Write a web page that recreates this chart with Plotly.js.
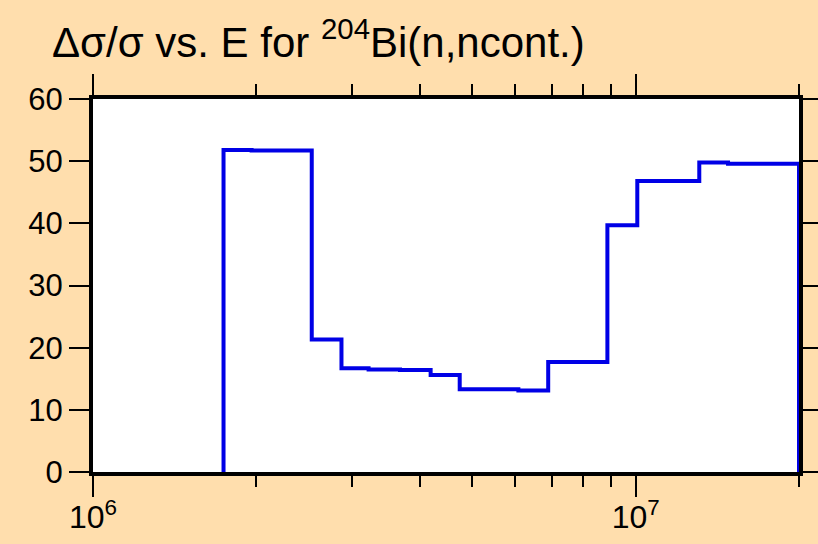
<!DOCTYPE html>
<html>
<head>
<meta charset="utf-8">
<script src="https://cdn.plot.ly/plotly-3.0.1.min.js"></script>
<style>html,body{margin:0;padding:0;background:#FFDEAD;}</style>
</head>
<body>
<div id="chart" style="width:818px;height:544px;"></div>
<script>
// Bin edges (eV) and relative uncertainty values (%) per bin
const binEdges = [1.74e6, 1.96e6, 2.53e6, 2.87e6, 3.22e6, 3.68e6, 4.19e6, 4.74e6, 5.36e6, 6.08e6, 6.90e6, 8.87e6, 1.007e7, 1.31e7, 1.48e7, 2.0e7];
const binValues = [51.8, 51.7, 21.3, 16.7, 16.5, 16.4, 15.6, 13.3, 13.3, 13.1, 17.7, 39.7, 46.8, 49.8, 49.6];
const majorTicks = [1e6, 1e7];
const majorTickText = ['10<sup>6</sup>', '10<sup>7</sup>'];
const minorTicks = [2e6, 3e6, 4e6, 5e6, 6e6, 7e6, 8e6, 9e6, 2e7];
const yTicks = [0, 10, 20, 30, 40, 50, 60];

// build step path
const xs = [binEdges[0]], ys = [0];
for (let i = 0; i < binValues.length; i++) { xs.push(binEdges[i]); ys.push(binValues[i]); }
xs.push(binEdges[binEdges.length - 1]); ys.push(binValues[binValues.length - 1]);
xs.push(binEdges[binEdges.length - 1]); ys.push(0);

const font = "Liberation Sans, Arial, sans-serif";
const gd = document.getElementById('chart');

function nudgeLabels() {
  gd.querySelectorAll('.xtick text').forEach(function (t) {
    const y = parseFloat(t.getAttribute('y') || '0');
    if (t.__shiftedY !== y) {
      const ny = y - 7;
      t.setAttribute('y', ny);
      t.__shiftedY = ny;
    }
  });
}

Plotly.newPlot(gd, [{
  x: xs, y: ys, type: 'scatter', mode: 'lines',
  line: {shape: 'hv', color: '#0000E6', width: 4},
  hoverinfo: 'skip', showlegend: false, cliponaxis: false
}], {
  width: 818, height: 544,
  paper_bgcolor: '#FFDEAD', plot_bgcolor: '#FFFFFF',
  margin: {l: 93, r: 19, t: 99, b: 72},
  font: {family: font, size: 31, color: '#000'},
  title: {text: 'Δσ/σ vs. E for <sup>204</sup>Bi(n,ncont.)', x: 52/818, xanchor: 'left', xref: 'container',
          y: 1 - 42/544, yanchor: 'middle', yref: 'container', font: {family: font, size: 42, color: '#000'}},
  xaxis: {type: 'log', range: [6, Math.log10(2e7)], tickmode: 'array', tickvals: majorTicks, ticktext: majorTickText,
          ticks: 'outside', ticklen: 21, tickwidth: 2, tickcolor: '#000', automargin: false,
          showline: true, linewidth: 4, linecolor: '#000', mirror: 'allticks', showgrid: false, zeroline: false,
          minor: {tickmode: 'array', tickvals: minorTicks, ticks: 'outside', ticklen: 11, tickwidth: 2, tickcolor: '#000', showgrid: false},
          tickfont: {family: font, size: 32}},
  yaxis: {range: [0, 60], tickmode: 'array', tickvals: yTicks, ticks: 'outside', ticklen: 20, tickwidth: 2, tickcolor: '#000',
          automargin: false,
          showline: true, linewidth: 4, linecolor: '#000', mirror: 'allticks', showgrid: false, zeroline: false,
          tickfont: {family: font, size: 31}}
}, {staticPlot: true}).then(function () {
  nudgeLabels();
  gd.on && gd.on('plotly_afterplot', nudgeLabels);
  setTimeout(nudgeLabels, 50);
  setTimeout(nudgeLabels, 300);
});
</script>
</body>
</html>
